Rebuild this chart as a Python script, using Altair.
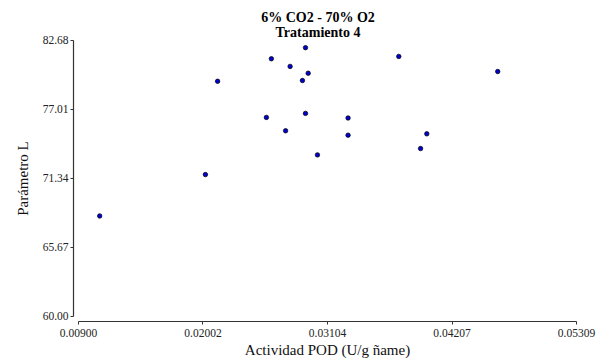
import altair as alt
import pandas as pd

# Data
pod = [0.01092, 0.02028, 0.02136, 0.02568, 0.02612, 0.02738, 0.02778, 0.02887, 0.02914,
       0.02914, 0.02938, 0.03020, 0.03291, 0.03291, 0.03740, 0.03933, 0.03988, 0.04616]
param_l = [68.22, 71.62, 79.29, 76.32, 81.14, 75.22, 80.51, 79.35, 82.05,
           76.65, 79.95, 73.24, 76.27, 74.86, 81.33, 73.76, 74.97, 80.09]
x_ticks = [0.009, 0.02002, 0.03104, 0.04207, 0.05309]
y_ticks = [60.00, 65.67, 71.34, 77.01, 82.68]

df = pd.DataFrame({"pod": pod, "L": param_l})

FONT = "Liberation Serif"

axis_style = dict(grid=False, offset=5, tickSize=3, labelFlush=False,
                  labelFont=FONT, titleFont=FONT, labelFontSize=11.5, titleFontSize=15,
                  labelColor="#222222", titleColor="#111111", titleFontWeight="normal",
                  domainColor="#333333", tickColor="#333333", domainWidth=1.2, tickWidth=1)

chart = alt.Chart(df).mark_point(
    filled=True, fill="#0000D0", stroke="#000000", strokeWidth=0.7, size=20, opacity=1
).encode(
    x=alt.X("pod:Q", scale=alt.Scale(domain=[0.009, 0.05309], nice=False, zero=False),
            axis=alt.Axis(values=x_ticks, format=".5f", title="Actividad POD (U/g ñame)",
                          labelPadding=3, titlePadding=4, **axis_style)),
    y=alt.Y("L:Q", scale=alt.Scale(domain=[60, 82.68], nice=False, zero=False),
            axis=alt.Axis(values=y_ticks, format=".2f", title="Parámetro L",
                          labelPadding=2, titlePadding=12, **axis_style)),
).properties(
    width=498,
    height=276,
    background="white",
    title=alt.TitleParams(text=["6% CO2 - 70% O2", "Tratamiento 4"], font=FONT,
                          fontSize=14, fontWeight="bold", color="#000000",
                          anchor="middle", offset=2, lineHeight=15, dx=-9, dy=8),
    autosize=alt.AutoSizeParams(type="none"),
    padding={"left": 78, "top": 40, "right": 26, "bottom": 42},
).configure(
    font=FONT
).configure_view(
    stroke=None
).configure_title(
    font=FONT
)

chart.save("out.html", embed_options={"renderer": "svg", "actions": False})
